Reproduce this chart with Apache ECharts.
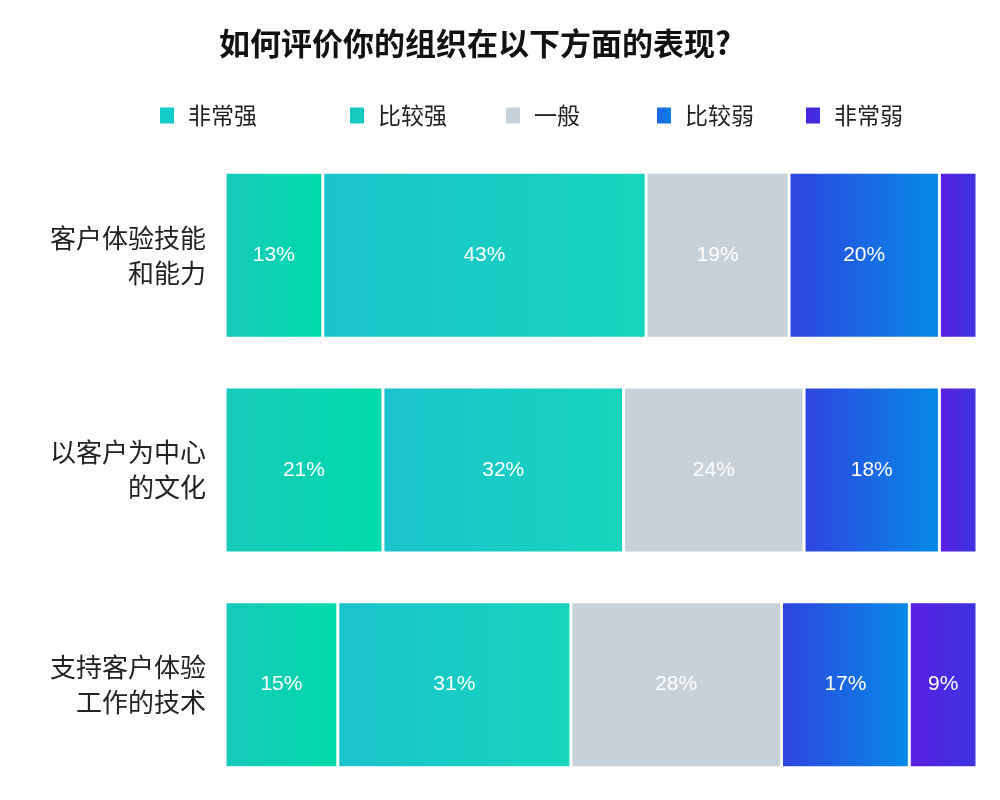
<!DOCTYPE html>
<html>
<head>
<meta charset="utf-8">
<script src="https://cdn.jsdelivr.net/npm/echarts@6/dist/echarts.min.js"></script>
<style>html,body{margin:0;padding:0;background:#fff}#c{width:1000px;height:800px}</style>
</head>
<body>
<div id="c"></div>
<script>
const categories = ['客户体验技能\n和能力', '以客户为中心\n的文化', '支持客户体验\n工作的技术'];
const seriesNames = ['非常强', '比较强', '一般', '比较弱', '非常弱'];
const veryStrong = [13, 21, 15];
const strong = [43, 32, 31];
const neutral = [19, 24, 28];
const weak = [20, 18, 17];
const veryWeak = [5, 5, 9];
const seriesValues = [veryStrong, strong, neutral, weak, veryWeak];
const legendLefts = [158, 348, 504, 655, 804];

const grad = (a, b) => new echarts.graphic.LinearGradient(0, 0, 1, 0, [{offset: 0, color: a}, {offset: 1, color: b}]);
const fills = [
  grad('#17c9bb', '#00daa9'),
  grad('#1ac3cd', '#17d5bd'),
  '#c8d1d8',
  grad('#2f44e0', '#058be6'),
  grad('#5a1ee2', '#3c34df')
];
const legendColors = ['#12cdc8', '#17cbc2', '#c8d1d8', grad('#1f5fe4', '#0a86e6'), grad('#4a22e0', '#3c30e0')];

const chart = echarts.init(document.getElementById('c'));
chart.setOption({
  animation: false,
  title: {
    text: '如何评价你的组织在以下方面的表现?',
    left: 470, top: 23, textAlign: 'center',
    textStyle: {fontSize: 31, fontWeight: 'bold', color: '#111', fontFamily: 'Noto Sans CJK SC'}
  },
  legend: seriesNames.map((n, i) => ({
    top: 104, left: legendLefts[i], padding: 0,
    itemWidth: 16, itemHeight: 18, icon: 'rect',
    textStyle: {fontSize: 23, color: '#222', fontFamily: 'Noto Sans CJK SC', padding: [0, 0, 0, 8]},
    data: [{name: n, itemStyle: {color: legendColors[i]}}]
  })),
  grid: {left: 225, right: 23, top: 148, bottom: 8},
  xAxis: {type: 'value', min: 0, max: 100, show: false},
  yAxis: {
    type: 'category', inverse: true, data: categories,
    axisLine: {show: false}, axisTick: {show: false},
    axisLabel: {fontSize: 26, color: '#222', lineHeight: 35, margin: 19, align: 'right', fontFamily: 'Noto Sans CJK SC'}
  },
  series: seriesNames.map((n, i) => ({
    name: n, type: 'bar', stack: 'all', barWidth: 166,
    data: seriesValues[i],
    itemStyle: {color: fills[i], borderColor: '#fff', borderWidth: 1.5},
    label: {
      show: true, color: '#fff', fontSize: 21, fontFamily: 'Liberation Sans',
      formatter: p => p.value >= 6 ? p.value + '%' : ''
    }
  }))
});
</script>
</body>
</html>
